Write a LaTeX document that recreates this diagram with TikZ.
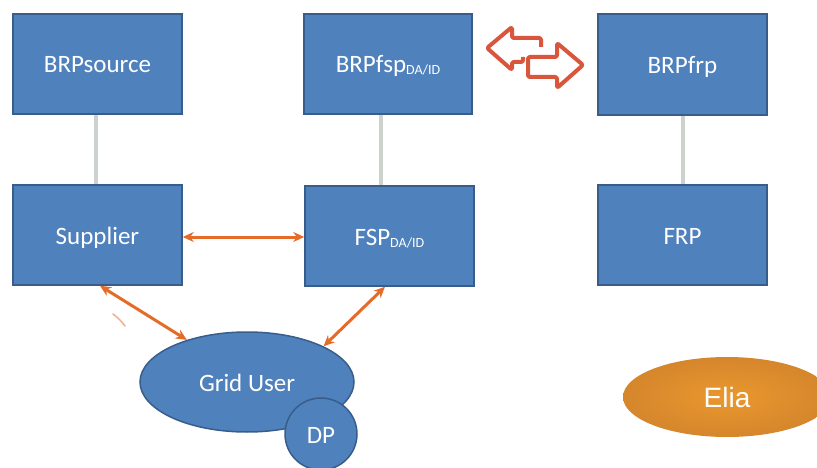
\documentclass[tikz,border=0pt]{standalone}
\usepackage{fontspec}
\setmainfont{Carlito}
\newfontfamily\eliafont{Liberation Sans}
\usetikzlibrary{shapes.geometric,arrows.meta}
\definecolor{boxblue}{RGB}{79,129,189}
\definecolor{boxedge}{RGB}{56,93,138}
\definecolor{linkgrey}{RGB}{204,210,204}
\definecolor{arrorange}{RGB}{228,108,40}
\definecolor{dblred}{RGB}{217,85,60}
\definecolor{eliaorange}{RGB}{232,146,48}
\tikzset{
  roleBox/.style={draw=boxedge, line width=1.5pt, fill=boxblue, text=white,
    minimum width=169pt, minimum height=100pt, inner sep=0pt,
    text height=18pt, text depth=0pt,
    font=\fontsize{25}{30}\selectfont},
  greyLink/.style={draw=linkgrey, line width=4pt},
  orangeLink/.style={draw=arrorange, line width=3pt,
    {Stealth[length=11pt,width=10pt]}-{Stealth[length=11pt,width=10pt]}},
  blueEllipse/.style={ellipse, draw=boxedge, line width=1.5pt, fill=boxblue, text=white,
    inner sep=0pt, text height=18pt, text depth=0pt, font=\fontsize{25}{30}\selectfont},
  dblArrow/.style={draw=dblred, line width=4pt, line join=round, rounded corners=1.5pt, fill=white}
}
\newcommand{\subDA}{\raisebox{-2pt}{\fontsize{14}{16}\selectfont DA/ID}}
\begin{document}
\begin{tikzpicture}[x=1pt,y=-1pt]
\useasboundingbox (0,0) rectangle (817,468);
\clip (0,0) rectangle (817,468);

% boxes
\node[roleBox] (brpsource) at (97.5,64) {BRPsource};
\node[roleBox, minimum width=168pt] (brpfsp) at (388,64) {BRPfsp\subDA};
\node[roleBox, minimum height=101pt] (brpfrp) at (682.5,64.5) {BRPfrp};
\node[roleBox] (supplier) at (97.5,235) {Supplier};
\node[roleBox] (fsp) at (389.5,236) {FSP\subDA};
\node[roleBox] (frp) at (682.5,235) {FRP};

% grey links
\draw[greyLink] ([xshift=-1.5pt]brpsource.south) -- ([xshift=-1.5pt]supplier.north);
\draw[greyLink] ([xshift=-7pt]brpfsp.south) -- ([xshift=-8.5pt]fsp.north);
\draw[greyLink] ([xshift=0.5pt]brpfrp.south) -- ([xshift=0.5pt]frp.north);

% grid user and DP
\node[blueEllipse, minimum width=214pt, minimum height=100pt] (grid) at (247,382) {Grid User};
\node[blueEllipse, circle, minimum size=72pt] (dp) at (321,434) {DP};

% orange links
\draw[orangeLink] ([yshift=-2pt]supplier.east) -- ([yshift=-1pt]fsp.west);
\draw[orangeLink] ([xshift=2.5pt]supplier.south) -- (grid.145.6);
\draw[orangeLink] ([xshift=-4.5pt]fsp.south) -- (grid.25);

% small stray mark
\draw[arrorange!55, line width=1.5pt, line cap=round] (113,314) to[bend left=8] (125,326);

% double arrow between BRPfsp and BRPfrp
\draw[dblArrow] (523,57) -- (523,62) -- (512,62) -- (512,70) -- (487,48) -- (512,27) -- (512,38) -- (541,38) -- (541,47);
\draw[dblArrow] (528,57) -- (557,57) -- (557,43) -- (583,65) -- (557,88) -- (557,77) -- (528,77) -- cycle;

% Elia
\node[ellipse, inner sep=0pt, minimum width=208pt, minimum height=80pt,
  inner color=eliaorange!95!yellow, outer color=eliaorange!92!black, text=white,
  font=\eliafont\fontsize{28}{32}\selectfont] (elia) at (727,397) {Elia};
\end{tikzpicture}
\end{document}
